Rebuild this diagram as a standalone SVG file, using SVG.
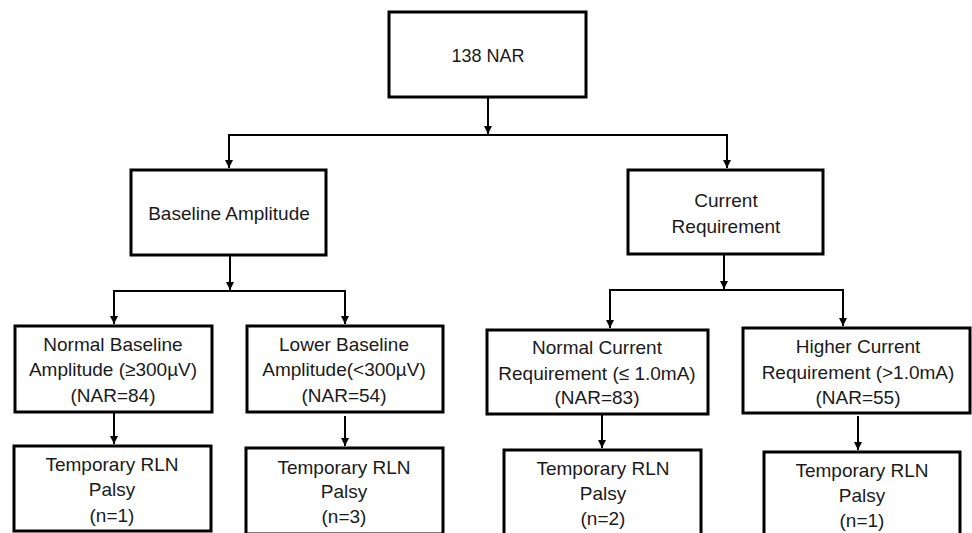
<svg xmlns="http://www.w3.org/2000/svg" width="972" height="533" viewBox="0 0 972 533">
<style>
.box{fill:#fff;stroke:#000;stroke-width:3}
.t{font-family:"Liberation Sans",Arial,sans-serif;font-size:19px;fill:#1a1a1a;text-anchor:middle}
.c{fill:none;stroke:#000;stroke-width:2}
</style>
<defs>
<marker id="ah" viewBox="0 0 10 10" refX="10" refY="5" markerWidth="4" markerHeight="4" orient="auto" markerUnits="strokeWidth">
<path d="M0,0 L10,5 L0,10 Z" fill="#000"/>
</marker>
</defs>
<rect width="972" height="533" fill="#fff"/>
<g id="connectors">
<path class="c" d="M488,97 V134" marker-end="url(#ah)"/>
<path class="c" d="M229,168 V135 H727 V168" marker-end="url(#ah)"/>
<path class="c" d="M229,135 V168" marker-end="url(#ah)"/>
<path class="c" d="M230,255 V290" marker-end="url(#ah)"/>
<path class="c" d="M114,324 V291 H345 V324" marker-end="url(#ah)"/>
<path class="c" d="M114,291 V324" marker-end="url(#ah)"/>
<path class="c" d="M724,254 V289" marker-end="url(#ah)"/>
<path class="c" d="M610,328 V290 H843 V326" marker-end="url(#ah)"/>
<path class="c" d="M610,290 V328" marker-end="url(#ah)"/>
<path class="c" d="M114,412 V444" marker-end="url(#ah)"/>
<path class="c" d="M345,416 V446" marker-end="url(#ah)"/>
<path class="c" d="M602,414 V448" marker-end="url(#ah)"/>
<path class="c" d="M858,416 V450" marker-end="url(#ah)"/>
</g>
<g id="n-top">
<rect class="box" x="389" y="12" width="197" height="85"/>
<text class="t" x="488" y="62" style="font-size:18px">138 NAR</text>
</g>
<g id="n-baseline">
<rect class="box" x="131" y="170" width="195" height="85"/>
<text class="t" x="229" y="220">Baseline Amplitude</text>
</g>
<g id="n-current">
<rect class="box" x="628" y="170" width="195" height="84"/>
<text class="t" x="726" y="207">Current</text>
<text class="t" x="726" y="233">Requirement</text>
</g>
<g id="n-normal-baseline">
<rect class="box" x="15" y="326" width="197" height="86"/>
<text class="t" x="113" y="351">Normal Baseline</text>
<text class="t" x="113" y="376">Amplitude (≥300µV)</text>
<text class="t" x="113" y="402">(NAR=84)</text>
</g>
<g id="n-lower-baseline">
<rect class="box" x="247" y="326" width="196" height="86"/>
<text class="t" x="344" y="351">Lower Baseline</text>
<text class="t" x="344" y="376">Amplitude(&lt;300µV)</text>
<text class="t" x="344" y="402">(NAR=54)</text>
</g>
<g id="n-normal-current">
<rect class="box" x="487" y="330" width="221" height="84"/>
<text class="t" x="597" y="354">Normal Current</text>
<text class="t" x="597" y="380">Requirement (≤ 1.0mA)</text>
<text class="t" x="597" y="404">(NAR=83)</text>
</g>
<g id="n-higher-current">
<rect class="box" x="743" y="328" width="227" height="85"/>
<text class="t" x="858" y="353">Higher Current</text>
<text class="t" x="858" y="379">Requirement (&gt;1.0mA)</text>
<text class="t" x="858" y="404">(NAR=55)</text>
</g>
<g id="n-palsy1">
<rect class="box" x="14" y="446" width="197" height="85"/>
<text class="t" x="112" y="471">Temporary RLN</text>
<text class="t" x="112" y="496">Palsy</text>
<text class="t" x="112" y="522">(n=1)</text>
</g>
<g id="n-palsy2">
<rect class="box" x="246" y="448" width="197" height="86"/>
<text class="t" x="344" y="474">Temporary RLN</text>
<text class="t" x="344" y="498">Palsy</text>
<text class="t" x="344" y="523">(n=3)</text>
</g>
<g id="n-palsy3">
<rect class="box" x="504" y="450" width="197" height="86"/>
<text class="t" x="603" y="475">Temporary RLN</text>
<text class="t" x="603" y="500">Palsy</text>
<text class="t" x="603" y="525">(n=2)</text>
</g>
<g id="n-palsy4">
<rect class="box" x="764" y="452" width="196" height="86"/>
<text class="t" x="862" y="477">Temporary RLN</text>
<text class="t" x="862" y="502">Palsy</text>
<text class="t" x="862" y="527">(n=1)</text>
</g>
</svg>
